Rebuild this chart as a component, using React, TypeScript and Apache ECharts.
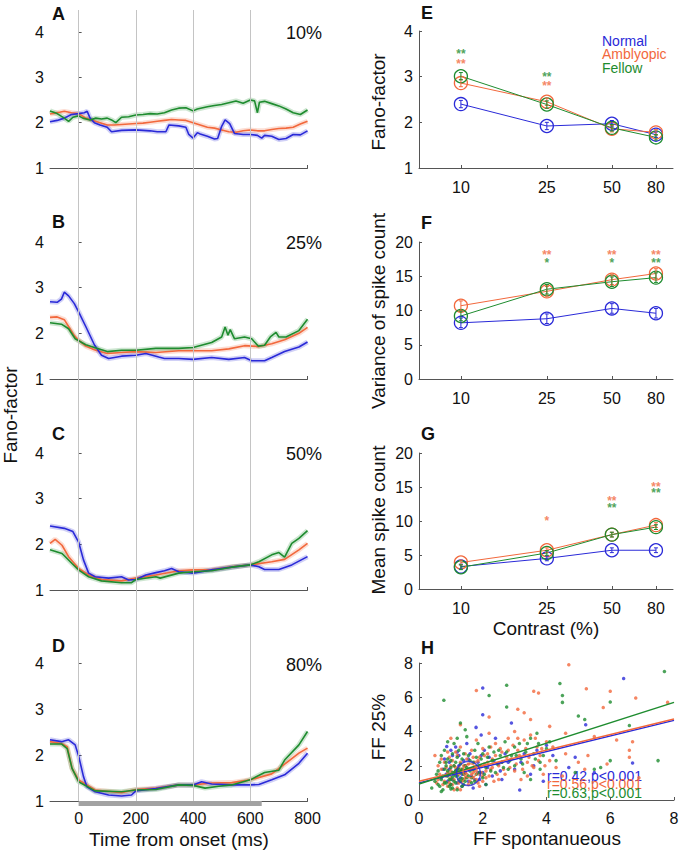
import React, { useEffect, useRef } from 'react';
import * as echarts from 'echarts';

const FONT = '"Liberation Sans", Arial, Helvetica, sans-serif';
const BLUE = '#2a2ad8';
const ORANGE = '#f2683c';
const GREEN = '#1e8c2f';

// ---------- Time-course panels (Fano factor vs time) ----------
const REF_LINES = [0, 200, 400, 600];
const STIM_ON = 0;
const STIM_OFF = 640;
const TIME_TICKS = [0, 200, 400, 600, 800];
const PANEL_PCT = ['10%', '25%', '50%', '80%'];

const A_normal = [[-100,2.02],[-75,2.05],[-50,2.1],[-25,2.18],[0,2.2],[20,2.22],[30,2.25],[40,2.1],[55,2.0],[75,1.95],[100,1.9],[115,1.8],[150,1.83],[200,1.84],[225,1.83],[250,1.82],[275,1.8],[305,1.8],[316,1.95],[350,1.93],[375,1.9],[385,1.74],[400,1.66],[415,1.78],[425,1.75],[450,1.7],[475,1.64],[486,1.65],[500,1.92],[512,2.06],[528,1.98],[545,1.76],[575,1.74],[600,1.74],[625,1.72],[640,1.66],[650,1.72],[675,1.7],[700,1.63],[725,1.65],[750,1.74],[775,1.73],[800,1.82]];
const A_amblyopic = [[-100,2.19],[-75,2.22],[-50,2.25],[-25,2.22],[0,2.2],[25,2.1],[50,2.05],[75,2.0],[100,1.95],[125,1.95],[150,1.96],[175,1.97],[200,1.98],[225,1.99],[250,2.01],[275,2.03],[300,2.05],[325,2.07],[350,2.06],[375,2.05],[400,2.0],[425,1.95],[450,1.9],[475,1.88],[500,1.84],[525,1.8],[550,1.79],[575,1.82],[600,1.84],[625,1.82],[650,1.82],[675,1.85],[700,1.87],[725,1.88],[750,1.9],[775,1.97],[800,2.03]];
const A_fellow = [[-100,2.26],[-75,2.2],[-50,2.1],[-35,2.03],[-20,2.12],[0,2.15],[15,2.1],[40,2.06],[60,2.1],[80,2.08],[100,2.1],[115,2.06],[130,2.0],[150,2.12],[175,2.13],[200,2.17],[225,2.18],[250,2.2],[275,2.19],[300,2.22],[325,2.28],[350,2.32],[375,2.33],[400,2.26],[415,2.3],[450,2.35],[475,2.38],[500,2.4],[525,2.44],[550,2.48],[575,2.43],[600,2.5],[615,2.48],[625,2.22],[632,2.45],[650,2.47],[675,2.42],[700,2.37],[725,2.3],[750,2.22],[775,2.18],[800,2.28]];

const B_normal = [[-100,2.69],[-75,2.68],[-60,2.75],[-50,2.9],[-35,2.82],[-15,2.65],[0,2.47],[25,2.15],[55,1.75],[80,1.52],[105,1.45],[150,1.5],[200,1.52],[235,1.56],[280,1.48],[300,1.45],[350,1.45],[400,1.43],[465,1.47],[525,1.43],[580,1.47],[605,1.4],[650,1.4],[675,1.47],[720,1.6],[770,1.7],[800,1.81]];
const B_amblyopic = [[-100,2.35],[-75,2.36],[-50,2.3],[-35,2.15],[-15,1.95],[0,1.85],[25,1.72],[55,1.64],[100,1.56],[150,1.58],[200,1.6],[270,1.58],[350,1.62],[400,1.62],[465,1.62],[525,1.66],[580,1.73],[630,1.71],[675,1.77],[720,1.86],[770,2.0],[800,2.13]];
const B_fellow = [[-100,2.23],[-60,2.2],[-35,2.1],[-12,1.88],[25,1.75],[55,1.69],[100,1.6],[150,1.63],[200,1.63],[270,1.67],[350,1.67],[400,1.69],[465,1.8],[500,1.92],[512,2.14],[522,1.96],[530,2.08],[545,1.88],[580,1.92],[605,1.88],[628,1.72],[650,1.74],[670,1.92],[690,2.02],[700,1.92],[725,1.92],[770,2.06],[800,2.31]];

const C_normal = [[-100,2.4],[-50,2.35],[-20,2.28],[0,2.05],[17,1.66],[35,1.37],[58,1.29],[105,1.26],[150,1.29],[175,1.22],[200,1.23],[235,1.33],[270,1.38],[300,1.42],[325,1.47],[350,1.4],[400,1.37],[465,1.44],[535,1.5],[600,1.55],[630,1.51],[650,1.45],[700,1.45],[745,1.55],[800,1.73]];
const C_amblyopic = [[-100,2.02],[-82,2.11],[-58,1.98],[-35,1.73],[0,1.47],[35,1.33],[80,1.23],[150,1.2],[200,1.26],[270,1.33],[350,1.42],[400,1.44],[465,1.45],[535,1.51],[600,1.55],[675,1.62],[720,1.67],[770,1.88],[800,2.02]];
const C_fellow = [[-100,1.88],[-58,1.8],[-23,1.58],[0,1.44],[35,1.29],[80,1.2],[150,1.16],[185,1.16],[200,1.23],[270,1.29],[285,1.26],[350,1.37],[400,1.4],[465,1.42],[535,1.5],[600,1.55],[630,1.62],[675,1.77],[700,1.82],[720,1.72],[745,2.02],[770,2.13],[800,2.3]];

const D_normal = [[-100,2.33],[-60,2.29],[-35,2.33],[-12,2.22],[0,1.98],[17,1.53],[29,1.31],[58,1.2],[105,1.13],[150,1.11],[185,1.13],[200,1.22],[270,1.27],[350,1.35],[400,1.35],[430,1.42],[465,1.37],[535,1.35],[600,1.35],[630,1.36],[675,1.46],[720,1.57],[770,1.82],[800,2.04]];
const D_amblyopic = [[-100,2.29],[-60,2.25],[-40,2.18],[-23,1.71],[0,1.46],[58,1.24],[150,1.18],[200,1.25],[270,1.28],[350,1.35],[400,1.35],[465,1.39],[535,1.4],[600,1.46],[675,1.59],[720,1.8],[770,2.04],[800,2.15]];
const D_fellow = [[-100,2.24],[-60,2.24],[-40,2.14],[-23,1.71],[0,1.42],[58,1.22],[150,1.2],[200,1.24],[270,1.25],[350,1.35],[400,1.34],[442,1.28],[490,1.32],[535,1.35],[600,1.46],[650,1.62],[700,1.67],[720,1.89],[770,2.22],[800,2.51]];

// ---------- Contrast panels ----------
const CONTRASTS = [10, 25, 50, 80];
const E_normal = [2.4, 1.92, 1.97, 1.73];
const E_amblyopic = [2.86, 2.45, 1.86, 1.78];
const E_fellow = [3.01, 2.39, 1.88, 1.67];
const E_err = [0.08, 0.08, 0.07, 0.06];

const F_normal = [8.2, 8.8, 10.3, 9.6];
const F_amblyopic = [10.7, 12.8, 14.5, 15.4];
const F_fellow = [9.2, 13.1, 14.2, 14.8];
const F_err = [0.7, 0.7, 0.7, 0.7];

const G_normal = [3.3, 4.5, 5.7, 5.7];
const G_amblyopic = [3.9, 5.7, 8.0, 9.4];
const G_fellow = [3.2, 5.3, 8.0, 9.1];
const G_err = [0.35, 0.35, 0.35, 0.35];

// significance stars [contrast, y, text]
const E_stars_orange = [[10, 3.34, '**'], [25, 2.86, '**']];
const E_stars_green = [[10, 3.56, '**'], [25, 3.06, '**']];
const F_stars_orange = [[25, 18.5, '**'], [50, 18.5, '**'], [80, 18.5, '**']];
const F_stars_green = [[25, 17.4, '*'], [50, 17.4, '*'], [80, 17.4, '**']];
const G_stars_orange = [[25, 10.4, '*'], [50, 13.4, '**'], [80, 15.4, '**']];
const G_stars_green = [[50, 12.4, '**'], [80, 14.5, '**']];

// ---------- Scatter panel H ----------
const H_normal = [[0.7,1.3],[0.8,2.4],[0.9,1.1],[0.95,1.8],[1.0,0.9],[1.05,2.6],[1.1,1.5],[1.15,3.1],[1.2,1.0],[1.25,2.0],[1.3,1.3],[1.35,0.8],[1.4,2.3],[1.45,1.6],[1.5,3.3],[1.55,1.1],[1.6,2.7],[1.65,1.4],[1.7,0.7],[1.75,1.9],[1.79,4.24],[1.85,2.2],[1.9,1.2],[1.95,3.8],[2.0,1.6],[2.05,2.9],[2.1,0.9],[2.2,2.5],[2.3,1.4],[2.4,3.6],[2.5,2.1],[2.6,1.2],[2.7,2.7],[2.9,4.5],[3.0,1.8],[3.16,0.58],[3.2,2.2],[3.5,1.5],[3.7,2.9],[3.9,1.1],[4.0,3.2],[4.2,2.6],[4.9,2.5],[5.23,4.4],[6.7,2.16],[6.42,7.1],[2.0,6.54],[2.0,4.98],[1.2,2.8],[0.87,3.13],[5.5,1.6],[4.7,1.9],
  [0.75,1.8],[0.85,1.5],[0.95,2.2],[1.05,1.2],[1.15,1.7],[1.25,2.6],[1.35,1.5],[1.45,2.0],[1.55,2.4],[1.65,1.8],[1.75,1.2],[1.85,1.6],[1.95,2.6],[2.15,1.9],[2.35,2.3],[2.55,1.7],[2.8,2.2],[3.3,2.7],[3.6,2.0],[1.0,2.9]];
const H_amblyopic = [[0.5,2.6],[0.6,1.2],[0.7,1.8],[0.75,0.9],[0.8,2.2],[0.85,1.4],[0.9,2.8],[0.95,1.0],[1.0,1.7],[1.0,3.6],[1.05,2.3],[1.1,1.2],[1.15,1.9],[1.2,0.7],[1.2,2.6],[1.25,1.5],[1.3,3.1],[1.35,1.1],[1.4,2.0],[1.45,1.6],[1.5,2.4],[1.55,0.9],[1.6,1.8],[1.65,2.9],[1.7,1.3],[1.75,2.2],[1.8,3.5],[1.85,1.0],[1.9,2.5],[1.95,1.6],[2.0,3.0],[2.05,2.1],[2.1,1.3],[2.15,2.7],[2.2,3.9],[2.25,1.8],[2.3,2.4],[2.35,1.1],[2.4,3.3],[2.5,2.0],[2.6,2.8],[2.7,1.5],[2.8,3.6],[2.9,2.4],[3.0,1.7],[3.0,4.0],[3.1,2.9],[3.2,1.2],[3.3,3.5],[3.4,2.2],[3.5,3.8],[3.6,1.9],[3.7,3.1],[3.8,2.6],[3.9,1.5],[4.0,3.4],[4.1,2.3],[4.3,1.9],[4.6,2.7],[4.6,3.9],[5.0,2.2],[5.3,2.6],[5.5,3.7],[5.9,2.1],[6.2,3.5],[6.6,2.5],[6.6,2.9],[6.7,3.4],[6.9,1.3],[4.7,7.9],[1.8,6.4],[3.6,6.35],[3.75,6.25],[3.1,5.3],[3.3,5.1],[5.25,6.5],[6.0,6.35],[6.8,5.95],[5.78,5.4],[7.8,5.7],[2.2,4.85],[3.5,4.7],[4.1,4.3],[4.5,1.4],[5.2,1.8],[0.6,2.0],[1.3,4.4],[1.1,0.6],[1.45,1.3],[1.7,1.6],[1.25,1.9],[0.9,1.6],[2.0,1.4],
  [0.65,1.5],[0.7,2.4],[0.8,1.1],[0.85,1.9],[0.9,0.8],[0.95,2.5],[1.0,1.3],[1.05,0.9],[1.1,2.0],[1.15,2.8],[1.2,1.6],[1.25,1.0],[1.3,2.2],[1.35,1.8],[1.4,1.2],[1.45,2.7],[1.5,1.5],[1.55,2.1],[1.6,1.1],[1.65,1.5],[1.7,2.5],[1.75,1.7],[1.8,1.2],[1.85,2.3],[1.9,1.5],[1.95,2.0],[2.0,1.1],[2.05,2.6],[2.1,1.7],[2.15,2.2],[2.2,1.4],[2.25,3.1],[2.3,1.9],[2.4,2.6],[2.45,1.5],[2.55,3.0],[2.6,2.2],[2.65,1.8],[2.75,2.5],[2.85,1.9],[2.95,3.2],[3.05,2.1],[3.15,2.6],[3.25,1.8],[3.35,3.0],[3.45,2.5],[3.55,2.0],[3.65,3.6],[3.75,2.3],[3.85,3.0],[3.95,2.0],[0.55,1.0],[1.0,2.0],[1.3,0.6],[1.9,0.8],[2.5,1.2],[2.8,2.9],[3.1,3.6],[3.4,1.4],[4.2,3.1]];
const H_fellow = [[0.4,0.7],[0.55,1.5],[0.6,0.9],[0.65,2.2],[0.7,1.2],[0.75,0.6],[0.8,1.8],[0.8,2.9],[0.85,1.0],[0.9,1.4],[0.9,2.4],[0.95,0.8],[1.0,1.9],[1.0,1.2],[1.05,2.7],[1.05,0.7],[1.1,1.6],[1.1,3.3],[1.15,1.0],[1.15,2.2],[1.2,1.4],[1.2,0.6],[1.25,1.8],[1.25,2.9],[1.3,1.1],[1.3,4.5],[1.35,2.4],[1.4,1.5],[1.4,0.9],[1.45,2.0],[1.5,3.7],[1.5,1.3],[1.55,2.6],[1.6,1.7],[1.65,1.0],[1.7,2.2],[1.75,2.9],[1.8,1.5],[1.85,3.3],[1.9,2.0],[2.0,1.3],[2.0,2.7],[2.1,1.9],[2.2,3.1],[2.3,2.3],[2.4,1.6],[2.5,2.9],[2.6,2.2],[2.7,3.4],[2.8,1.8],[2.9,2.6],[3.0,3.1],[3.2,2.4],[3.3,1.6],[3.4,3.3],[3.6,2.7],[3.7,3.9],[3.8,2.2],[4.0,3.0],[4.3,2.3],[0.78,5.82],[2.75,6.7],[2.2,6.1],[4.42,6.8],[4.5,6.1],[5.0,4.9],[5.2,4.7],[4.5,5.7],[2.75,5.43],[6.0,5.72],[6.6,4.35],[7.7,7.5],[7.5,2.3],[5.7,1.9],[5.5,1.8],[6.0,2.3],[3.5,1.2],[4.9,1.6],[0.95,1.5],[1.15,1.7],[1.35,1.25],[0.85,2.0],[1.05,1.35],
  [0.5,1.1],[0.6,1.7],[0.65,0.8],[0.7,2.6],[0.75,1.4],[0.8,1.0],[0.85,2.2],[0.9,1.7],[0.95,1.2],[1.0,2.3],[1.0,0.9],[1.05,1.6],[1.1,2.0],[1.1,1.1],[1.15,1.4],[1.2,2.5],[1.2,1.8],[1.25,1.2],[1.3,1.6],[1.3,2.1],[1.35,0.8],[1.35,1.8],[1.4,2.7],[1.45,1.1],[1.5,1.9],[1.55,1.4],[1.6,2.3],[1.65,1.3],[1.7,1.8],[1.75,1.1],[1.8,2.5],[1.9,1.6],[1.95,2.4],[2.05,1.5],[2.15,2.5],[2.25,1.7],[2.35,2.8],[2.45,2.1],[2.55,2.6],[2.65,1.9],[2.75,2.8],[2.85,2.3],[3.05,2.6],[3.15,3.3],[3.25,2.1],[3.35,2.8],[3.5,3.6],[3.65,2.4],[3.75,3.3],[3.9,2.6],[0.9,3.4],[1.2,3.6],[1.45,4.1],[1.0,0.65],[0.7,0.5],[2.1,0.9],[3.0,2.0],[3.8,1.8],[4.1,3.4]];
const H_fit_normal = [[0, 1.0], [8, 4.65]];
const H_fit_amblyopic = [[0, 1.09], [8, 4.73]];
const H_fit_fellow = [[0, 0.93], [8, 5.7]];
const H_mean_normal = [1.55, 1.55];
const H_mean_amblyopic = [1.6, 1.7];
const H_stats = ['r=0.42,p<0.001', 'r=0.56,p<0.001', 'r=0.63,p<0.001'];
const LEGEND = ['Normal', 'Amblyopic', 'Fellow'];

const option = (() => {
  const lx = (c: number) => Math.log10(c);
  const logTicks = CONTRASTS.map(lx);
  const axisLine = { show: true, lineStyle: { color: '#555', width: 1 } };
  const tick = { show: true, inside: true, length: 3, lineStyle: { color: '#555' } };
  const lbl = { fontSize: 16, color: '#111', fontFamily: FONT };
  const gridBase = { containLabel: false, outerBoundsMode: 'none' };

  const grid = [
    { left: 50, top: 10, width: 257.5, height: 791 },
    { left: 50, top: 801, width: 257.5, height: 5 },
    { left: 50, top: 32, width: 257.5, height: 136 },
    { left: 50, top: 242, width: 257.5, height: 137 },
    { left: 50, top: 453, width: 257.5, height: 137 },
    { left: 50, top: 663, width: 257.5, height: 138 },
    { left: 419, top: 31, width: 254, height: 137 },
    { left: 419, top: 242, width: 254, height: 137 },
    { left: 419, top: 453, width: 254, height: 136 },
    { left: 419, top: 663, width: 255, height: 137 },
  ].map((g) => ({ ...gridBase, ...g }));

  const xAxis: any[] = [];
  const yAxis: any[] = [];
  for (let i = 0; i < 2; i++) {
    xAxis.push({ gridIndex: i, type: 'value', min: -100, max: 800, show: false });
    yAxis.push({ gridIndex: i, type: 'value', min: 0, max: 1, show: false });
  }
  for (let i = 2; i < 6; i++) {
    xAxis.push({
      gridIndex: i, type: 'value', min: -100, max: 800,
      axisLine, axisTick: { ...tick, customValues: TIME_TICKS },
      axisLabel: i === 5 ? { ...lbl, margin: 9, customValues: TIME_TICKS } : { show: false },
      splitLine: { show: false },
    });
    yAxis.push({
      gridIndex: i, type: 'value', min: 1, max: 4, interval: 1,
      axisLine, axisTick: tick, axisLabel: { ...lbl, margin: 6 }, splitLine: { show: false },
    });
  }
  for (let i = 6; i < 9; i++) {
    xAxis.push({
      gridIndex: i, type: 'value', min: 0.806, max: 1.982,
      axisLine, axisTick: { ...tick, customValues: logTicks },
      axisLabel: { ...lbl, margin: 11, customValues: logTicks, formatter: (v: number) => String(Math.round(Math.pow(10, v))) },
      splitLine: { show: false },
    });
  }
  yAxis.push({ gridIndex: 6, type: 'value', min: 1, max: 4, interval: 1, axisLine, axisTick: tick, axisLabel: { ...lbl, margin: 6 }, splitLine: { show: false } });
  yAxis.push({ gridIndex: 7, type: 'value', min: 0, max: 20, interval: 5, axisLine, axisTick: tick, axisLabel: { ...lbl, margin: 6 }, splitLine: { show: false } });
  yAxis.push({ gridIndex: 8, type: 'value', min: 0, max: 20, interval: 5, axisLine, axisTick: tick, axisLabel: { ...lbl, margin: 6 }, splitLine: { show: false } });
  xAxis.push({ gridIndex: 9, type: 'value', min: 0, max: 8, interval: 2, axisLine, axisTick: tick, axisLabel: { ...lbl, margin: 10 }, splitLine: { show: false } });
  yAxis.push({ gridIndex: 9, type: 'value', min: 0, max: 8, interval: 2, axisLine, axisTick: tick, axisLabel: { ...lbl, margin: 6 }, splitLine: { show: false } });

  const series: any[] = [];
  series.push({
    type: 'line', xAxisIndex: 0, yAxisIndex: 0, data: [[-100, 0]], symbol: 'none',
    lineStyle: { opacity: 0 }, silent: true, z: 0,
    markLine: {
      symbol: ['none', 'none'], silent: true, label: { show: false }, animation: false,
      lineStyle: { color: '#c4c4c4', type: 'solid', width: 1 },
      data: REF_LINES.map((v) => ({ xAxis: v })),
    },
  });
  series.push({
    type: 'line', xAxisIndex: 1, yAxisIndex: 1, data: [[0, 0]], symbol: 'none',
    lineStyle: { opacity: 0 }, silent: true,
    markArea: { silent: true, itemStyle: { color: '#a2a2a2' }, data: [[{ xAxis: STIM_ON }, { xAxis: STIM_OFF }]] },
  });

  const panels = [
    [A_amblyopic, A_normal, A_fellow],
    [B_amblyopic, B_normal, B_fellow],
    [C_amblyopic, C_normal, C_fellow],
    [D_amblyopic, D_normal, D_fellow],
  ];
  const tsColors = [ORANGE, BLUE, GREEN];
  panels.forEach((set, p) => {
    set.forEach((d, k) => {
      series.push({
        type: 'line', xAxisIndex: p + 2, yAxisIndex: p + 2, data: d, symbol: 'none', silent: true, z: 2,
        lineStyle: { width: 5, color: tsColors[k], opacity: 0.22 },
      });
    });
    set.forEach((d, k) => {
      series.push({
        type: 'line', xAxisIndex: p + 2, yAxisIndex: p + 2, data: d, symbol: 'none', silent: true, z: 3,
        lineStyle: { width: 1.6, color: tsColors[k] },
      });
    });
  });

  const cPanels = [
    { g: 6, sets: [E_normal, E_amblyopic, E_fellow], err: E_err, so: E_stars_orange, sg: E_stars_green },
    { g: 7, sets: [F_normal, F_amblyopic, F_fellow], err: F_err, so: F_stars_orange, sg: F_stars_green },
    { g: 8, sets: [G_normal, G_amblyopic, G_fellow], err: G_err, so: G_stars_orange, sg: G_stars_green },
  ];
  const cColors = [BLUE, ORANGE, GREEN];
  cPanels.forEach(({ g, sets, err, so, sg }) => {
    sets.forEach((vals, k) => {
      const color = cColors[k];
      series.push({
        type: 'line', xAxisIndex: g, yAxisIndex: g, silent: true, z: 3,
        data: vals.map((v, i) => [lx(CONTRASTS[i]), v]),
        symbol: 'circle', symbolSize: 13, showSymbol: true,
        lineStyle: { width: 1, color },
        itemStyle: { color: 'rgba(0,0,0,0)', borderColor: color, borderWidth: 1.3 },
      });
      series.push({
        type: 'custom', xAxisIndex: g, yAxisIndex: g, silent: true, z: 4,
        data: vals.map((v, i) => [lx(CONTRASTS[i]), v, err[i]]),
        renderItem: (params: any, api: any) => {
          const x = api.value(0), y = api.value(1), e = api.value(2);
          const top = api.coord([x, y + e]);
          const bot = api.coord([x, y - e]);
          const st = { stroke: color, lineWidth: 1 };
          return {
            type: 'group',
            children: [
              { type: 'line', shape: { x1: top[0], y1: top[1], x2: bot[0], y2: bot[1] }, style: st },
              { type: 'line', shape: { x1: top[0] - 2, y1: top[1], x2: top[0] + 2, y2: top[1] }, style: st },
              { type: 'line', shape: { x1: bot[0] - 2, y1: bot[1], x2: bot[0] + 2, y2: bot[1] }, style: st },
            ],
          };
        },
      });
    });
    [[so, ORANGE], [sg, GREEN]].forEach(([stars, color]: any) => {
      series.push({
        type: 'scatter', xAxisIndex: g, yAxisIndex: g, silent: true, z: 5,
        data: stars.map((s: any) => [lx(s[0]), s[1], s[2]]),
        symbolSize: 1, itemStyle: { color: 'rgba(0,0,0,0)' },
        label: {
          show: true, position: 'inside', offset: [0, 3], formatter: (p: any) => p.data[2],
          color, fontSize: 12, fontWeight: 'bold', fontFamily: FONT,
        },
      });
    });
  });

  [[H_normal, BLUE], [H_amblyopic, ORANGE], [H_fellow, GREEN]].forEach(([d, color]: any) => {
    series.push({
      type: 'scatter', xAxisIndex: 9, yAxisIndex: 9, data: d, symbolSize: 3.5, silent: true, z: 2,
      itemStyle: { color },
    });
  });
  [[H_fit_normal, BLUE], [H_fit_amblyopic, ORANGE], [H_fit_fellow, GREEN]].forEach(([d, color]: any) => {
    series.push({
      type: 'line', xAxisIndex: 9, yAxisIndex: 9, data: d, symbol: 'none', silent: true, z: 3,
      lineStyle: { width: 1.5, color },
    });
  });
  series.push({
    type: 'scatter', xAxisIndex: 9, yAxisIndex: 9, data: [H_mean_normal], symbolSize: 24, silent: true, z: 4,
    itemStyle: { color: 'rgba(0,0,0,0)', borderColor: BLUE, borderWidth: 1.5 },
  });
  series.push({
    type: 'scatter', xAxisIndex: 9, yAxisIndex: 9, data: [H_mean_amblyopic], symbolSize: 14, silent: true, z: 4,
    itemStyle: { color: 'rgba(0,0,0,0)', borderColor: ORANGE, borderWidth: 1.5 },
  });

  const txt = (x: number, y: number, text: string, extra: any = {}) => ({
    type: 'text', x, y, silent: true,
    style: { text, fontFamily: FONT, fontSize: 19, fill: '#111', textAlign: 'center', textVerticalAlign: 'middle', ...extra },
  });
  const letter = (x: number, y: number, t: string) => txt(x, y, t, { fontWeight: 'bold', fontSize: 18, textAlign: 'left' });
  const graphic: any[] = [
    letter(52, 14, 'A'), letter(52, 222, 'B'), letter(52, 434, 'C'), letter(52, 646, 'D'),
    letter(421, 13, 'E'), letter(421, 223, 'F'), letter(421, 434, 'G'), letter(421, 648, 'H'),
    txt(322, 33, PANEL_PCT[0], { textAlign: 'right', fontSize: 18 }),
    txt(322, 243, PANEL_PCT[1], { textAlign: 'right', fontSize: 18 }),
    txt(322, 454, PANEL_PCT[2], { textAlign: 'right', fontSize: 18 }),
    txt(322, 665, PANEL_PCT[3], { textAlign: 'right', fontSize: 18 }),
    txt(602, 41, LEGEND[0], { textAlign: 'left', fontSize: 14, fill: BLUE }),
    txt(602, 54, LEGEND[1], { textAlign: 'left', fontSize: 14, fill: ORANGE }),
    txt(602, 68, LEGEND[2], { textAlign: 'left', fontSize: 14, fill: GREEN }),
    { ...txt(10, 415, 'Fano-factor'), rotation: Math.PI / 2 },
    txt(179, 839, 'Time from onset (ms)'),
    { ...txt(378, 102, 'Fano-factor'), rotation: Math.PI / 2 },
    { ...txt(378, 311, 'Variance of spike count'), rotation: Math.PI / 2 },
    { ...txt(378, 520, 'Mean spike count'), rotation: Math.PI / 2 },
    { ...txt(378, 727, 'FF 25%'), rotation: Math.PI / 2 },
    txt(546, 628, 'Contrast (%)'),
    txt(547, 838, 'FF spontanueous'),
    txt(547, 776, H_stats[0], { textAlign: 'left', fontSize: 14, fill: BLUE }),
    txt(547, 784, H_stats[1], { textAlign: 'left', fontSize: 14, fill: ORANGE }),
    txt(547, 793, H_stats[2], { textAlign: 'left', fontSize: 14, fill: GREEN }),
  ];

  return {
    animation: false,
    backgroundColor: '#ffffff',
    textStyle: { fontFamily: FONT },
    grid, xAxis, yAxis, series, graphic,
  };
})();

export default function App() {
  const ref = useRef<HTMLDivElement | null>(null);
  useEffect(() => {
    const chart = echarts.init(ref.current as HTMLDivElement, null, { renderer: 'svg' });
    chart.setOption(option as any);
    return () => chart.dispose();
  }, []);
  return <div ref={ref} style={{ position: 'fixed', left: 0, top: 0, width: 682, height: 853 }} />;
}
